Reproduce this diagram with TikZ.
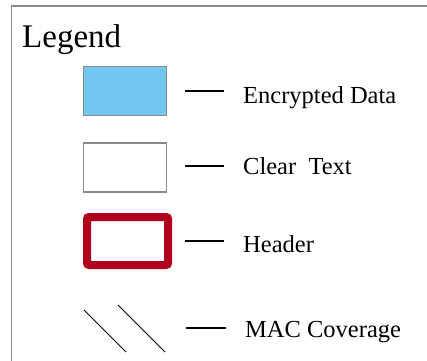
\documentclass[tikz,border=0pt]{standalone}
\usepackage{fontspec}
\setmainfont{Liberation Serif}
\usetikzlibrary{positioning}
\definecolor{encblue}{HTML}{71C7EF}
\definecolor{hdrred}{HTML}{B0001E}
\definecolor{frmgray}{HTML}{8A8A8A}
\tikzset{
    keybox/.style={draw=frmgray, line width=1.5pt, minimum width=83pt, minimum height=49pt, inner sep=0pt},
    hdrbox/.style={draw=hdrred, line width=8pt, rounded corners=2pt, minimum width=81pt, minimum height=48pt, inner sep=0pt},
    keytext/.style={inner sep=0pt, anchor=base west, font=\fontsize{24.5}{28}\selectfont},
    keydash/.style={line width=1.6pt, black},
    macline/.style={line width=1pt, black}
}
\begin{document}
\begin{tikzpicture}[x=1pt, y=-1pt]
    \useasboundingbox (0,0) rectangle (427,360);
    % outer frame, cut by the page at right and bottom
    \draw[frmgray, line width=1.8pt] (11.5,365) -- (11.5,6) -- (432,6);
    \node[inner sep=0pt, anchor=base west, font=\fontsize{33}{40}\selectfont] (title) at (22,47) {Legend};
    % key entries
    \node[keybox, fill=encblue] (enc) at (125,91) {};
    \node[keybox] (clr) at (125,167.5) {};
    \node[hdrbox] (hdr) at (127.5,241) {};
    \node[keytext] (encT) at (243,103) {Encrypted Data};
    \node[keytext] (clrT) at (243,174) {Clear\ \ Text};
    \node[keytext] (hdrT) at (243,252) {Header};
    \node[keytext] (macT) at (245,337) {MAC Coverage};
    \coordinate (encD) at (185,91);
    \coordinate (clrD) at (185,166);
    \coordinate (hdrD) at (185,241);
    \coordinate (macD) at (186,328);
    \draw[keydash] (encD) -- ++(39,0);
    \draw[keydash] (clrD) -- ++(39,0);
    \draw[keydash] (hdrD) -- ++(39,0);
    \draw[keydash] (macD) -- ++(40,0);
    % mac coverage hatch
    \coordinate (m1) at (84,310);
    \coordinate (m2) at (126,352);
    \coordinate (m3) at (118,305);
    \coordinate (m4) at (165,352);
    \draw[macline] (m1) -- (m2);
    \draw[macline] (m3) -- (m4);
\end{tikzpicture}
\end{document}
